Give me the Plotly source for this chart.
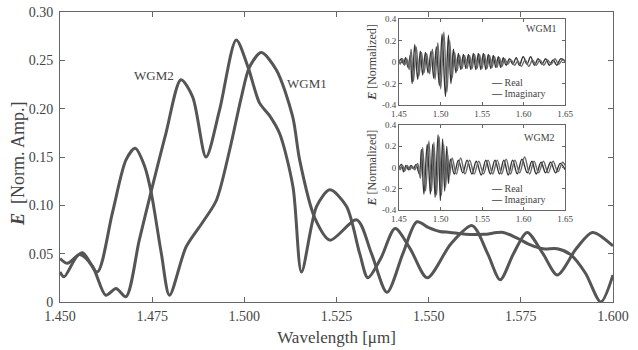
import plotly.graph_objects as go

# ---------------- main spectra ----------------
wgm1_wl = [1.4500, 1.4520, 1.4561, 1.4601, 1.4642, 1.4679, 1.4704, 1.4730, 1.4747, 1.4775,
           1.4797, 1.4842, 1.4886, 1.4924, 1.4960, 1.4992, 1.5014, 1.5046, 1.5087, 1.5131,
           1.5150, 1.5191, 1.5232, 1.5305, 1.5345, 1.5387, 1.5430, 1.5468, 1.5500, 1.5530,
           1.5558, 1.5600, 1.5650, 1.5702, 1.5740, 1.5776, 1.5810, 1.5849, 1.5885, 1.5925,
           1.5967, 1.6000]
wgm1_e = [0.045, 0.040, 0.051, 0.031, 0.092, 0.147, 0.159, 0.140, 0.114, 0.050,
          0.007, 0.057, 0.082, 0.105, 0.157, 0.212, 0.243, 0.258, 0.240, 0.192,
          0.147, 0.087, 0.064, 0.085, 0.050, 0.010, 0.050, 0.083, 0.077, 0.073,
          0.072, 0.070, 0.070, 0.072, 0.066, 0.059, 0.055, 0.055, 0.049, 0.030,
          0.000, 0.028]

wgm2_wl = [1.4500, 1.4511, 1.4552, 1.4588, 1.4624, 1.4652, 1.4679, 1.4715, 1.4747, 1.4787,
           1.4828, 1.4860, 1.4896, 1.4933, 1.4978, 1.5010, 1.5041, 1.5068, 1.5096, 1.5132,
           1.5155, 1.5196, 1.5232, 1.5277, 1.5313, 1.5335, 1.5370, 1.5409, 1.5450, 1.5496,
           1.5560, 1.5618, 1.5660, 1.5694, 1.5730, 1.5767, 1.5810, 1.5849, 1.5900, 1.5944,
           1.6000]
wgm2_e = [0.031, 0.026, 0.049, 0.037, 0.007, 0.014, 0.0055, 0.064, 0.114, 0.174,
          0.230, 0.212, 0.150, 0.199, 0.271, 0.243, 0.206, 0.193, 0.174, 0.119,
          0.031, 0.099, 0.116, 0.099, 0.050, 0.025, 0.045, 0.076, 0.055, 0.025,
          0.060, 0.079, 0.050, 0.023, 0.050, 0.072, 0.050, 0.028, 0.055, 0.072,
          0.058]

# ---------------- inset 1 (WGM1 time signal) ----------------
in1_re_wl = [1.4500, 1.4530, 1.4555, 1.4580, 1.4610, 1.4635, 1.4658, 1.4690, 1.4725, 1.4757,
             1.4785, 1.4818, 1.4850, 1.4886, 1.4918, 1.4950, 1.4986, 1.5019, 1.5059, 1.5095,
             1.5125, 1.5155, 1.5185, 1.5215, 1.5245, 1.5275, 1.5305, 1.5335, 1.5365, 1.5395,
             1.5425, 1.5455, 1.5485, 1.5515, 1.5545, 1.5575, 1.5605, 1.5635, 1.5665, 1.5695,
             1.5725, 1.5755, 1.5790, 1.5830, 1.5870, 1.5910, 1.5950, 1.5995, 1.6040, 1.6085,
             1.6130, 1.6175, 1.6220, 1.6265, 1.6310, 1.6355, 1.6400, 1.6445, 1.6500]
in1_re = [0.00, 0.03, -0.02, 0.04, -0.05, 0.06, -0.20, 0.16, -0.16, 0.10,
          -0.12, 0.09, -0.10, 0.10, -0.15, 0.14, -0.22, 0.26, -0.32, 0.25,
          -0.20, 0.12, -0.10, 0.08, -0.07, 0.07, -0.06, 0.07, -0.07, 0.08,
          -0.07, 0.08, -0.07, 0.08, -0.07, 0.07, -0.06, 0.06, -0.05, 0.05,
          -0.05, 0.04, -0.03, 0.03, -0.02, 0.04, -0.03, 0.05, -0.02, 0.05,
          -0.03, 0.03, -0.02, 0.03, -0.03, 0.02, -0.03, 0.03, 0.01]
in1_im_wl = [1.4500, 1.4515, 1.4542, 1.4568, 1.4595, 1.4622, 1.4646, 1.4674, 1.4708, 1.4740,
             1.4771, 1.4802, 1.4834, 1.4868, 1.4902, 1.4934, 1.4968, 1.5002, 1.5040, 1.5077,
             1.5110, 1.5140, 1.5170, 1.5200, 1.5230, 1.5260, 1.5290, 1.5320, 1.5350, 1.5380,
             1.5410, 1.5440, 1.5470, 1.5500, 1.5530, 1.5560, 1.5590, 1.5620, 1.5650, 1.5680,
             1.5710, 1.5740, 1.5772, 1.5810, 1.5850, 1.5890, 1.5930, 1.5972, 1.6018, 1.6062,
             1.6108, 1.6152, 1.6198, 1.6242, 1.6288, 1.6332, 1.6378, 1.6422, 1.6470, 1.6500]
in1_im = [0.02, -0.02, 0.03, -0.03, 0.03, -0.07, 0.12, -0.18, 0.14, -0.13,
          0.09, -0.10, 0.08, -0.11, 0.12, -0.16, 0.18, -0.25, 0.28, -0.28,
          0.20, -0.15, 0.09, -0.08, 0.06, -0.06, 0.06, -0.06, 0.06, -0.06,
          0.07, -0.06, 0.07, -0.06, 0.07, -0.06, 0.06, -0.05, 0.05, -0.05,
          0.04, -0.04, 0.03, -0.02, 0.02, -0.03, 0.01, -0.04, 0.02, -0.04,
          0.02, -0.03, 0.02, -0.03, 0.02, -0.02, 0.03, -0.02, 0.02, 0.00]

# ---------------- inset 2 (WGM2 time signal) ----------------
in2_re_wl = [1.4500, 1.4530, 1.4556, 1.4585, 1.4615, 1.4645, 1.4675, 1.4705, 1.4745, 1.4770,
             1.4800, 1.4840, 1.4878, 1.4906, 1.4935, 1.4970, 1.4998, 1.5025, 1.5050, 1.5075,
             1.5095, 1.5120, 1.5165, 1.5215, 1.5268, 1.5320, 1.5378, 1.5430, 1.5490, 1.5545,
             1.5600, 1.5655, 1.5710, 1.5762, 1.5815, 1.5868, 1.5923, 1.5980, 1.6044, 1.6100,
             1.6152, 1.6210, 1.6265, 1.6325, 1.6385, 1.6440, 1.6500]
in2_re = [0.00, 0.03, -0.04, 0.02, -0.02, 0.02, -0.01, 0.03, -0.06, 0.17,
          -0.25, 0.22, -0.25, 0.22, -0.28, 0.31, -0.31, 0.27, -0.22, 0.20,
          -0.15, 0.08, -0.06, 0.07, -0.05, 0.07, -0.06, 0.06, -0.07, 0.07,
          -0.06, 0.07, -0.06, 0.07, -0.07, 0.07, -0.06, 0.08, -0.05, 0.06,
          -0.06, 0.05, -0.05, 0.05, -0.05, 0.04, -0.02]
in2_im_wl = [1.4500, 1.4515, 1.4543, 1.4570, 1.4600, 1.4630, 1.4660, 1.4690, 1.4725, 1.4757,
             1.4785, 1.4820, 1.4860, 1.4892, 1.4920, 1.4953, 1.4984, 1.5012, 1.5038, 1.5062,
             1.5085, 1.5108, 1.5140, 1.5190, 1.5242, 1.5295, 1.5350, 1.5405, 1.5460, 1.5518,
             1.5572, 1.5628, 1.5682, 1.5736, 1.5790, 1.5842, 1.5895, 1.5952, 1.6012, 1.6072,
             1.6126, 1.6180, 1.6238, 1.6295, 1.6355, 1.6412, 1.6470, 1.6500]
in2_im = [0.01, -0.02, 0.02, -0.03, 0.02, -0.02, 0.01, -0.02, 0.04, -0.10,
          0.19, -0.22, 0.25, -0.22, 0.24, -0.26, 0.29, -0.26, 0.22, -0.18,
          0.13, -0.08, 0.09, -0.06, 0.09, -0.06, 0.07, -0.06, 0.06, -0.06,
          0.07, -0.06, 0.07, -0.06, 0.08, -0.06, 0.07, -0.05, 0.10, -0.06,
          0.06, -0.05, 0.06, -0.05, 0.06, -0.04, 0.05, 0.02]

main_xticks = [1.450, 1.475, 1.500, 1.525, 1.550, 1.575, 1.600]
main_xlabels = ["1.450", "1.475", "1.500", "1.525", "1.550", "1.575", "1.600"]
main_yticks = [0, 0.05, 0.10, 0.15, 0.20, 0.25, 0.30]
main_ylabels = ["0", "0.05", "0.10", "0.15", "0.20", "0.25", "0.30"]
inset_xticks = [1.45, 1.50, 1.55, 1.60, 1.65]
inset_xlabels = ["1.45", "1.50", "1.55", "1.60", "1.65"]
inset_yticks = [-0.4, -0.2, 0, 0.2, 0.4]
inset_ylabels = ["-0.4", "-0.2", "0", "0.2", "0.4"]

FONT = "Liberation Serif"
TXT = "#444444"
LINE = "#555555"
AX = "#666666"

fig = go.Figure()
fig.add_trace(go.Scatter(x=wgm1_wl, y=wgm1_e, mode="lines", name="WGM1",
                         line=dict(color=LINE, width=3, shape="spline", smoothing=0.8),
                         showlegend=False, xaxis="x", yaxis="y"))
fig.add_trace(go.Scatter(x=wgm2_wl, y=wgm2_e, mode="lines", name="WGM2",
                         line=dict(color=LINE, width=3, shape="spline", smoothing=0.8),
                         showlegend=False, xaxis="x", yaxis="y"))

for wl, v, col, ax in [(in1_re_wl, in1_re, "#333333", ("x2", "y2")),
                       (in1_im_wl, in1_im, "#6a6a6a", ("x2", "y2")),
                       (in2_re_wl, in2_re, "#333333", ("x3", "y3")),
                       (in2_im_wl, in2_im, "#6a6a6a", ("x3", "y3"))]:
    fig.add_trace(go.Scatter(x=wl, y=v, mode="lines",
                             line=dict(color=col, width=1.4, shape="spline", smoothing=1.0),
                             showlegend=False, xaxis=ax[0], yaxis=ax[1]))


def axstyle(size, **kw):
    d = dict(showline=True, linecolor=AX, linewidth=1, mirror="ticks", ticks="inside",
             showgrid=False, zeroline=False, tickcolor=AX, automargin=False,
             tickfont=dict(family=FONT, color=TXT, size=size))
    d.update(kw)
    return d


fig.update_layout(
    width=638, height=350,
    margin=dict(l=60, r=25, t=12, b=48),
    paper_bgcolor="white", plot_bgcolor="white",
    font=dict(family=FONT, color=TXT),
    xaxis=axstyle(14, domain=[0, 1], range=[1.45, 1.60], tickvals=main_xticks,
                  ticktext=main_xlabels, ticklen=5, ticklabelstandoff=1,
                  title=dict(text="Wavelength [μm]", font=dict(size=17, family=FONT, color=TXT),
                             standoff=8)),
    yaxis=axstyle(14, domain=[0, 1], range=[0, 0.30], tickvals=main_yticks,
                  ticktext=main_ylabels, ticklen=5, ticklabelstandoff=3),
    xaxis2=axstyle(9, domain=[0.6130, 0.9135], anchor="y2", range=[1.45, 1.65],
                   tickvals=inset_xticks, ticktext=inset_xlabels, ticklen=3),
    yaxis2=axstyle(9, domain=[0.679, 0.976], anchor="x2", range=[-0.4, 0.4],
                   tickvals=inset_yticks, ticktext=inset_ylabels, ticklen=3,
                   title=dict(text="<b><i>E</i></b> [Normalized]",
                              font=dict(size=12, family=FONT, color=TXT), standoff=2)),
    xaxis3=axstyle(9, domain=[0.6130, 0.9135], anchor="y3", range=[1.45, 1.65],
                   tickvals=inset_xticks, ticktext=inset_xlabels, ticklen=3),
    yaxis3=axstyle(9, domain=[0.317, 0.610], anchor="x3", range=[-0.4, 0.4],
                   tickvals=inset_yticks, ticktext=inset_ylabels, ticklen=3,
                   title=dict(text="<b><i>E</i></b> [Normalized]",
                              font=dict(size=12, family=FONT, color=TXT), standoff=2)),
)

# main y-axis title placed as rotated text
fig.add_annotation(text="<b><i>E</i></b>  [Norm. Amp.]", x=-0.076, y=0.479,
                   xref="paper", yref="paper", textangle=-90, showarrow=False,
                   xanchor="center", yanchor="middle",
                   font=dict(family=FONT, size=18, color=TXT))

ann = [
    dict(text="WGM2", x=1.4756, y=0.234, xref="x", yref="y", size=13),
    dict(text="WGM1", x=1.517, y=0.2265, xref="x", yref="y", size=13),
    dict(text="WGM1", x=1.621, y=0.307, xref="x2", yref="y2", size=10),
    dict(text="WGM2", x=1.619, y=0.287, xref="x3", yref="y3", size=10),
]
for a in ann:
    fig.add_annotation(text=a["text"], x=a["x"], y=a["y"], xref=a["xref"], yref=a["yref"],
                       showarrow=False, font=dict(family=FONT, size=a["size"], color=TXT))

for xr, yr, yre, yim in [("x2", "y2", -0.19, -0.29), ("x3", "y3", -0.20, -0.30)]:
    fig.add_annotation(text="<b>—</b> Real", x=1.558, y=yre, xref=xr, yref=yr, xanchor="left",
                       showarrow=False, font=dict(family=FONT, size=10, color=TXT))
    fig.add_annotation(text="<b>—</b> Imaginary", x=1.558, y=yim, xref=xr, yref=yr, xanchor="left",
                       showarrow=False, font=dict(family=FONT, size=10, color=TXT))

fig.write_html("out.html")
